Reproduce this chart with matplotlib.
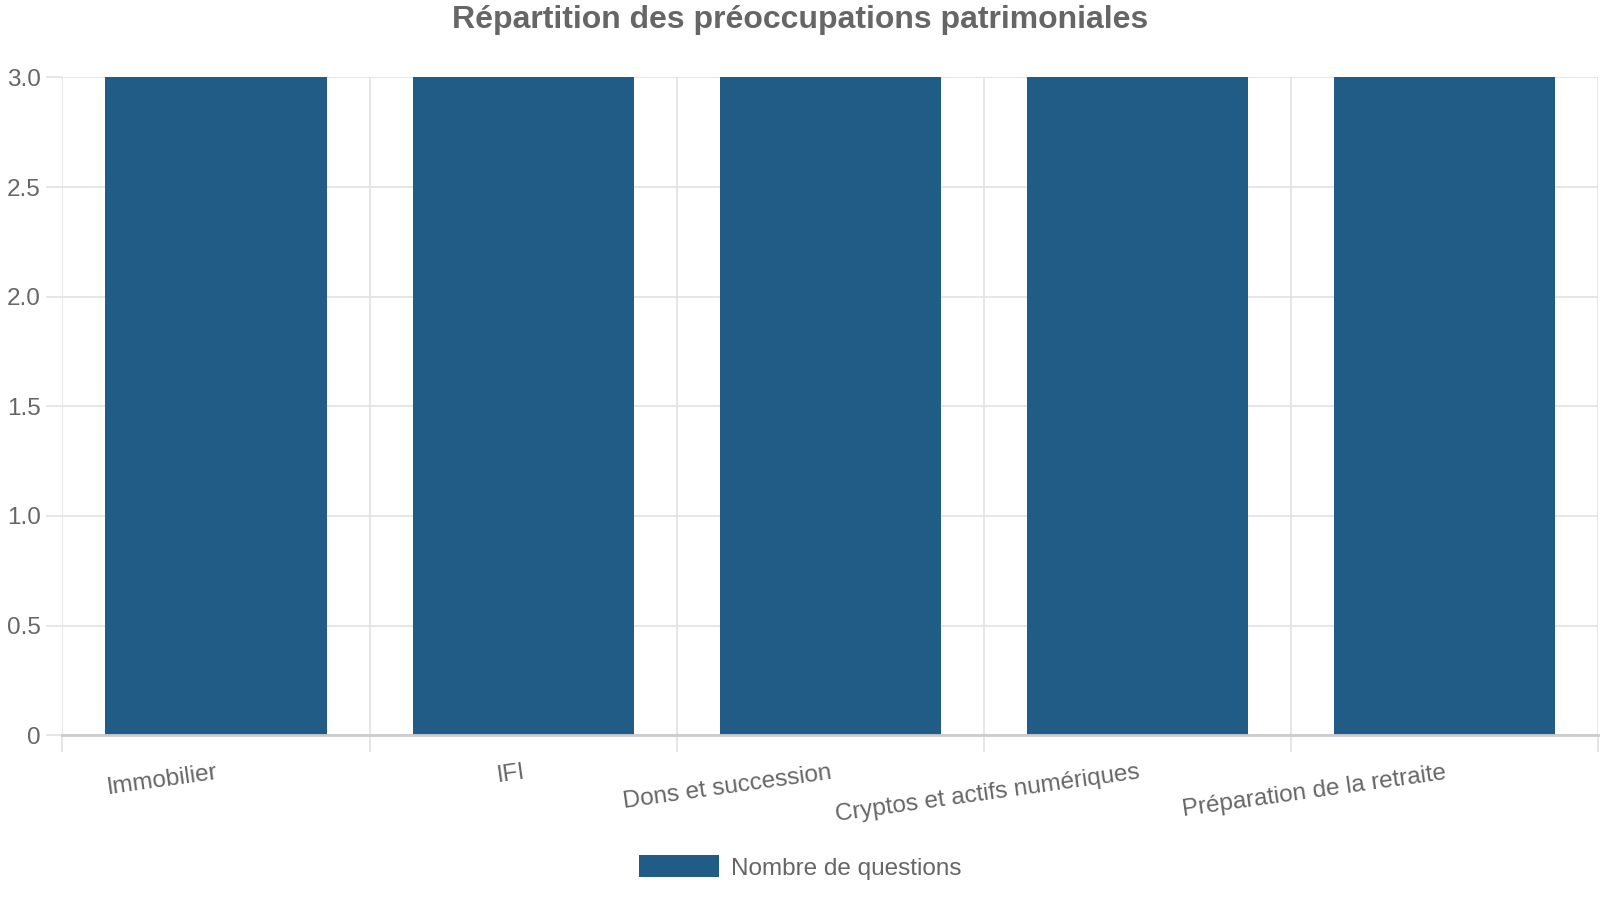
import numpy as np
import matplotlib
matplotlib.use("Agg")
import matplotlib.pyplot as plt
from matplotlib.patches import Patch

categories = ["Immobilier", "IFI", "Dons et succession",
              "Cryptos et actifs numériques", "Préparation de la retraite"]
counts = [3, 3, 3, 3, 3]
y_ticks = [0, 0.5, 1.0, 1.5, 2.0, 2.5, 3.0]
y_labels = ["0", "0.5", "1.0", "1.5", "2.0", "2.5", "3.0"]
series_name = "Nombre de questions"
title = "Répartition des préoccupations patrimoniales"

BAR = "#205c86"
TXT = "#666666"
GRID = "#e2e2e2"

plt.rcParams['font.family'] = ['Liberation Sans', 'DejaVu Sans']

fig = plt.figure(figsize=(16, 9), dpi=100)
ax = fig.add_axes([0.039, 0.183, 0.96, 0.731])

x = np.arange(len(categories))
ax.bar(x, counts, width=0.72, color=BAR, zorder=3)

ax.set_xlim(-0.5, len(categories) - 0.5)
ax.set_ylim(0, 3)

# category boundaries carry the vertical grid and the tick marks
ax.set_xticks(np.arange(len(categories) + 1) - 0.5, minor=True)
ax.set_xticks(x)
ax.set_xticklabels(categories, rotation=8, ha='right', va='top',
                   rotation_mode='anchor', fontsize=17.5, color=TXT)
ax.tick_params(axis='x', which='major', length=0, pad=19)
ax.tick_params(axis='x', which='minor', length=12, width=1.2, color=GRID)
ax.grid(True, axis='x', which='minor', color=GRID, linewidth=1.2, zorder=0)

ax.set_yticks(y_ticks)
ax.set_yticklabels(y_labels, fontsize=17.5, color=TXT)
ax.tick_params(axis='y', length=11.5, width=1.2, color=GRID, pad=4)
ax.grid(True, axis='y', color=GRID, linewidth=1.2, zorder=0)

for side in ['top', 'right', 'left']:
    ax.spines[side].set_visible(False)
ax.spines['bottom'].set_color('#cccccc')
ax.spines['bottom'].set_linewidth(2)
ax.spines['bottom'].set_zorder(4)

fig.text(0.5, 0.978, title, ha='center', va='center',
         fontsize=23, fontweight='bold', color=TXT)

fig.legend(handles=[Patch(facecolor=BAR, label=series_name)],
           loc='center', bbox_to_anchor=(0.5, 0.036), frameon=False,
           fontsize=17.5, labelcolor=TXT, handlelength=3.3,
           handleheight=1.0, handletextpad=0.5)

fig.savefig("out.png", dpi=100)
